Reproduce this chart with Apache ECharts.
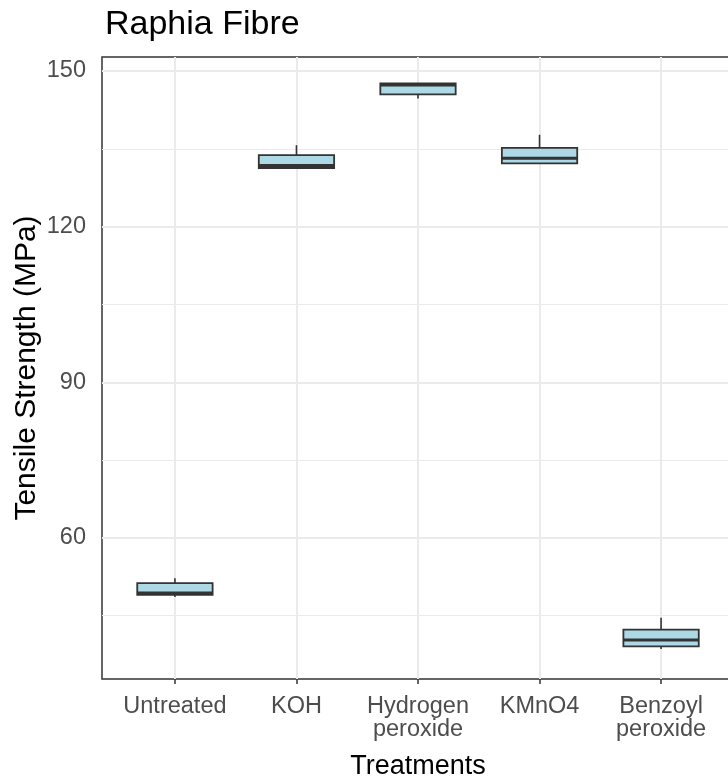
<!DOCTYPE html>
<html>
<head>
<meta charset="utf-8">
<script src="https://cdn.jsdelivr.net/npm/echarts@6/dist/echarts.min.js"></script>
<style>
html,body{margin:0;padding:0;background:#fff;}
#chart{width:728px;height:778px;}
</style>
</head>
<body>
<div id="chart"></div>
<script>
const categories = ['Untreated', 'KOH', 'Hydrogen\nperoxide', 'KMnO4', 'Benzoyl\nperoxide'];
const mins    = [48.6, 131.3, 144.7, 132.2, 38.6];
const q1s     = [49.0, 131.3, 145.5, 132.2, 39.1];
const medians = [49.4, 131.8, 147.3, 133.2, 40.3];
const q3s     = [51.3, 133.8, 147.6, 135.2, 42.3];
const maxs    = [52.2, 135.7, 147.6, 137.7, 44.6];
const yTicks = [60, 90, 120, 150];
const yMinor = [45, 75, 105, 135];
const xTicks = [0, 1, 2, 3, 4];

const boxData = categories.map((c, i) => [i, mins[i], q1s[i], medians[i], q3s[i], maxs[i]]);

const chart = echarts.init(document.getElementById('chart'), null, {renderer: 'canvas'});
const FONT = 'Liberation Sans, Arial, sans-serif';

function renderBox(params, api) {
  const x = api.value(0);
  const lo = api.coord([x, api.value(1)]);
  const q1 = api.coord([x, api.value(2)]);
  const md = api.coord([x, api.value(3)]);
  const q3 = api.coord([x, api.value(4)]);
  const hi = api.coord([x, api.value(5)]);
  const w = api.size([0.62, 0])[0];
  const cx = q1[0];
  const stroke = '#333333';
  return {
    type: 'group',
    children: [
      {type: 'line', shape: {x1: cx, y1: hi[1], x2: cx, y2: q3[1]}, style: {stroke: stroke, lineWidth: 1.6}},
      {type: 'line', shape: {x1: cx, y1: q1[1], x2: cx, y2: lo[1]}, style: {stroke: stroke, lineWidth: 1.6}},
      {type: 'rect', shape: {x: cx - w / 2, y: q3[1], width: w, height: q1[1] - q3[1]},
        style: {fill: '#ADD8E6', stroke: stroke, lineWidth: 1.8}},
      {type: 'line', shape: {x1: cx - w / 2, y1: md[1], x2: cx + w / 2, y2: md[1]}, style: {stroke: stroke, lineWidth: 3}}
    ]
  };
}

const option = {
  backgroundColor: '#ffffff',
  animation: false,
  title: {
    text: 'Raphia Fibre',
    left: 100, top: 3,
    textStyle: {fontFamily: FONT, fontSize: 34, fontWeight: 'normal', color: '#000'}
  },
  grid: {
    left: 102, top: 57, width: 632, height: 622,
    outerBoundsMode: 'none', containLabel: false,
    show: true, borderColor: '#333333', borderWidth: 1.5, backgroundColor: '#fff'
  },
  xAxis: {
    type: 'value', min: -0.6, max: 4.6,
    name: 'Treatments', nameLocation: 'middle', nameGap: 74,
    nameTextStyle: {fontFamily: FONT, fontSize: 27, color: '#000'},
    axisLine: {show: false},
    splitLine: {show: false},
    axisTick: {show: true, customValues: xTicks, length: 5, lineStyle: {color: '#333', width: 1.5}},
    axisLabel: {
      customValues: xTicks, margin: 16, fontFamily: FONT, fontSize: 23.5, color: '#4D4D4D', lineHeight: 23,
      formatter: v => categories[Math.round(v)]
    }
  },
  yAxis: {
    type: 'value', min: 32.8, max: 152.7,
    name: 'Tensile Strength (MPa)', nameLocation: 'middle', nameGap: 60, nameMoveOverlap: false,
    nameTextStyle: {fontFamily: FONT, fontSize: 30, color: '#000'},
    axisLine: {show: false},
    splitLine: {show: false},
    axisTick: {show: true, customValues: yTicks, length: 5, lineStyle: {color: '#333', width: 1.5}},
    axisLabel: {customValues: yTicks, margin: 16, fontFamily: FONT, fontSize: 23.5, color: '#4D4D4D'}
  },
  series: [
    {
      type: 'line', data: [], silent: true, z: 1,
      markLine: {
        silent: true, symbol: 'none', animation: false,
        label: {show: false},
        emphasis: {disabled: true},
        data: [
          ...yMinor.map(v => ({yAxis: v, lineStyle: {color: '#EBEBEB', width: 1, type: 'solid'}})),
          ...yTicks.map(v => ({yAxis: v, lineStyle: {color: '#EBEBEB', width: 2, type: 'solid'}})),
          ...xTicks.map(v => ({xAxis: v, lineStyle: {color: '#EBEBEB', width: 2, type: 'solid'}}))
        ]
      }
    },
    {
      type: 'custom', z: 5,
      renderItem: renderBox,
      encode: {x: 0, y: [1, 2, 3, 4, 5]},
      data: boxData
    }
  ]
};
chart.setOption(option);
</script>
</body>
</html>
